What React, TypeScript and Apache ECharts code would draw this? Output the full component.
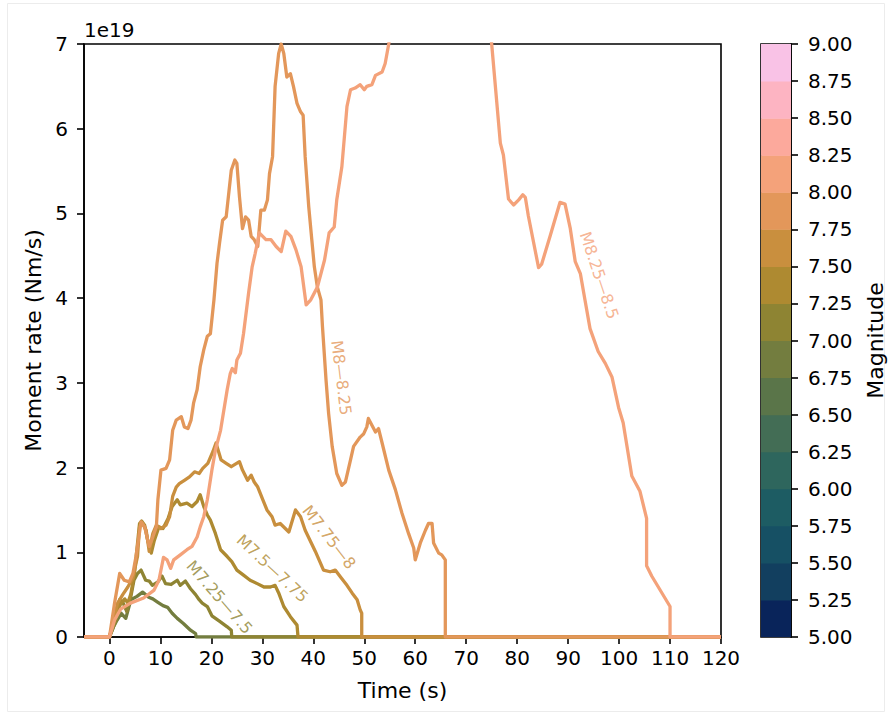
import React, { useEffect, useRef } from "react";
import * as echarts from "echarts";

const FONT = "DejaVu Sans";

// x tick values (s)
const xTickValues = [0, 10, 20, 30, 40, 50, 60, 70, 80, 90, 100, 110, 120];

// Magnitude bins for the colour bar
const cbBounds = [5, 5.25, 5.5, 5.75, 6, 6.25, 6.5, 6.75, 7, 7.25, 7.5, 7.75, 8, 8.25, 8.5, 8.75, 9];
const cbColors = [
  "#09245a", "#123f5f", "#165064", "#1d5c63", "#2e665d", "#436d55", "#5a7549", "#737d3f",
  "#8e8433", "#ae8a31", "#c98f3e", "#e3975a", "#f4a27a", "#fca99c", "#fdb4c2", "#f9c2e6",
];

// Moment-rate functions (time s, moment rate in 1e19 Nm/s)
const m7_725: [number, number][] = [
  [-5, 0], [0, 0], [0.8, 0.12], [1.5, 0.2], [2.3, 0.28], [3.2, 0.22], [4.2, 0.44], [5.4, 0.48],
  [6.5, 0.53], [7.7, 0.47], [8.5, 0.45], [9.5, 0.41], [10.5, 0.37], [11.4, 0.35], [12.3, 0.28],
  [13.3, 0.22], [14.5, 0.16], [15.9, 0.08], [16.9, 0.04], [17, 0], [120, 0],
];
const m725_75: [number, number][] = [
  [-5, 0], [0, 0], [1.3, 0.2], [2.0, 0.44], [2.7, 0.4], [3.4, 0.3], [4.2, 0.48], [4.8, 0.67],
  [5.5, 0.75], [6.2, 0.79], [7.1, 0.67], [7.8, 0.66], [8.4, 0.61], [9.5, 0.65], [10.3, 0.72],
  [11.0, 0.63], [12.1, 0.62], [13.3, 0.67], [13.9, 0.61], [14.9, 0.66], [15.9, 0.57], [16.9, 0.5],
  [17.6, 0.44], [18.2, 0.4], [19.2, 0.36], [20.1, 0.25], [21.5, 0.19], [23.1, 0.12], [23.9, 0.08],
  [24, 0], [120, 0],
];
const m75_775: [number, number][] = [
  [-5, 0], [0, 0], [1.3, 0.28], [2.3, 0.4], [3.0, 0.45], [3.6, 0.4], [4.2, 0.51], [4.9, 0.75],
  [5.9, 1.34], [6.3, 1.37], [6.9, 1.32], [7.5, 1.14], [8.2, 0.99], [8.8, 1.14], [9.7, 1.3],
  [10.5, 1.28], [11.5, 1.4], [12.3, 1.54], [13.3, 1.62], [13.9, 1.56], [15.2, 1.58], [16.2, 1.54],
  [17.2, 1.6], [17.8, 1.68], [18.5, 1.54], [19.2, 1.44], [19.8, 1.38], [20.8, 1.22], [21.8, 1.03],
  [23.1, 0.95], [24.0, 0.89], [25.0, 0.79], [26.3, 0.73], [27.6, 0.67], [29.0, 0.63], [30.3, 0.59],
  [31.6, 0.59], [32.5, 0.61], [33.2, 0.52], [34.2, 0.36], [35.5, 0.24], [36.8, 0.14], [37, 0], [120, 0],
];
const m775_8: [number, number][] = [
  [-5, 0], [0, 0], [1.6, 0.4], [2.6, 0.5], [3.6, 0.59], [4.6, 0.7], [5.5, 0.95], [5.9, 1.3],
  [6.5, 1.34], [7.2, 1.26], [7.8, 1.01], [8.5, 1.22], [9.2, 1.32], [10.1, 1.28], [11.1, 1.32],
  [11.8, 1.42], [12.4, 1.66], [13.1, 1.77], [13.7, 1.81], [14.7, 1.85], [15.7, 1.89], [16.7, 1.95],
  [17.6, 1.93], [18.3, 1.99], [19.3, 2.05], [20.3, 2.19], [20.9, 2.29], [21.9, 2.09], [22.9, 2.05],
  [23.9, 2.01], [25.5, 2.07], [26.1, 1.97], [27.1, 1.85], [27.8, 1.91], [28.4, 1.83], [29.1, 1.77],
  [30.1, 1.62], [30.9, 1.5], [31.9, 1.42], [32.5, 1.32], [33.5, 1.34], [35.2, 1.24], [36.5, 1.5],
  [37.5, 1.42], [38.4, 1.26], [40.4, 1.01], [42.0, 0.79], [43.3, 0.77], [44.3, 0.79], [45.3, 0.71],
  [46.6, 0.61], [47.6, 0.52], [48.6, 0.44], [49.2, 0.32], [49.5, 0.28], [49.5, 0], [120, 0],
];
const m8_825: [number, number][] = [
  [-5, 0], [0, 0], [1.0, 0.4], [2.0, 0.75], [2.9, 0.67], [3.9, 0.65], [4.6, 0.75], [5.2, 0.95],
  [6.2, 1.36], [6.9, 1.3], [7.8, 1.07], [8.5, 1.18], [9.2, 1.3], [9.5, 1.62], [10.1, 1.97],
  [11.1, 1.99], [11.8, 2.09], [12.4, 2.44], [13.1, 2.56], [14.1, 2.6], [14.7, 2.48], [15.4, 2.46],
  [16.0, 2.56], [16.5, 2.76], [17.2, 2.92], [17.8, 3.19], [18.5, 3.39], [19.2, 3.55], [19.8, 3.58],
  [20.5, 3.98], [21.1, 4.41], [21.6, 4.65], [22.2, 4.92], [22.9, 4.96], [23.9, 5.51], [24.6, 5.63],
  [25.0, 5.59], [25.5, 5.2], [26.1, 4.82], [26.7, 4.96], [27.3, 4.92], [27.8, 4.73], [28.4, 4.69],
  [29.1, 4.61], [29.7, 5.04], [30.4, 5.04], [31.0, 5.16], [31.4, 5.47], [32.0, 5.67], [32.5, 6.5],
  [33.2, 6.89], [33.7, 7.0], [34.2, 6.89], [34.8, 6.61], [35.5, 6.65], [36.1, 6.5], [36.8, 6.3],
  [37.5, 6.2], [38.0, 6.16], [38.4, 5.67], [39.1, 5.08], [39.7, 4.69], [40.2, 4.37], [40.8, 4.13],
  [41.5, 3.98], [41.8, 3.66], [42.5, 3.03], [43.0, 2.64], [43.7, 2.25], [44.6, 1.93], [45.6, 1.79],
  [46.3, 1.83], [47.3, 2.09], [47.9, 2.25], [49.2, 2.36], [49.9, 2.4], [50.5, 2.48], [50.8, 2.58],
  [51.5, 2.5], [52.2, 2.42], [52.8, 2.46], [53.5, 2.29], [54.8, 1.97], [56.1, 1.74], [57.4, 1.46],
  [58.7, 1.22], [59.7, 1.05], [60.0, 0.91], [61.0, 1.11], [62.0, 1.26], [62.6, 1.34], [63.3, 1.34],
  [63.6, 1.11], [64.6, 0.99], [65.2, 0.97], [65.9, 0.91], [65.9, 0], [120, 0],
];
const m825_85: [number, number][] = [
  [-5, 0], [0, 0], [1.0, 0.2], [2.2, 0.33], [4.1, 0.4], [6.7, 0.46], [8.7, 0.55], [9.7, 0.67],
  [10.3, 0.85], [10.6, 0.94], [11.3, 0.91], [12.0, 0.81], [12.6, 0.91], [13.9, 0.97], [15.2, 1.03],
  [16.2, 1.07], [17.2, 1.18], [17.8, 1.3], [18.5, 1.42], [19.2, 1.62], [20.1, 1.97], [20.8, 2.21],
  [21.8, 2.44], [23.1, 2.92], [23.7, 3.11], [24.1, 3.17], [24.7, 3.12], [25.0, 3.27], [25.7, 3.35],
  [26.3, 3.58], [27.3, 4.06], [28.0, 4.37], [28.6, 4.53], [29.4, 4.77], [30.7, 4.69], [31.7, 4.69],
  [32.7, 4.61], [33.7, 4.55], [34.6, 4.79], [35.6, 4.73], [36.6, 4.57], [37.6, 4.37], [38.6, 3.92],
  [39.5, 3.98], [40.8, 4.13], [42.2, 4.45], [43.1, 4.77], [44.1, 4.84], [44.6, 5.16], [45.6, 5.55],
  [46.6, 6.26], [47.3, 6.46], [48.2, 6.48], [49.2, 6.52], [50.0, 6.46], [50.5, 6.5], [51.5, 6.52],
  [52.2, 6.63], [53.5, 6.67], [54.1, 6.77], [54.8, 7.0], [56, 7.6], [58, 8.3], [62, 8.9], [66, 9.2],
  [70, 8.9], [73, 8.2], [75.0, 7.0], [76.7, 5.83], [77.3, 5.69], [78.3, 5.17], [79.3, 5.1],
  [80.3, 5.16], [81.1, 5.22], [81.6, 5.19], [82.2, 4.97], [84.2, 4.36], [84.8, 4.4], [86.5, 4.74],
  [88.4, 5.13], [89.4, 5.11], [90.4, 4.83], [91.4, 4.43], [92.4, 4.29], [93.3, 3.98], [94.3, 3.64],
  [95.9, 3.37], [97.3, 3.23], [98.6, 3.07], [99.9, 2.71], [100.8, 2.53], [102.5, 1.9], [104.1, 1.72],
  [105.4, 1.4], [105.4, 0.84], [106.4, 0.72], [110.0, 0.36], [110.0, 0], [120, 0],
];

const seriesNames = ["M7—7.25", "M7.25—7.5", "M7.5—7.75", "M7.75—8", "M8—8.25", "M8.25—8.5"];
const seriesData = [m7_725, m725_75, m75_775, m775_8, m8_825, m825_85];
const seriesColors = ["#737d3f", "#8e8433", "#ae8a31", "#c98f3e", "#e3975a", "#f4a27a"];

// inline labels: [series index, time, value, angle]
const inlineLabels: [number, number, number, number][] = [
  [1, 21.6, 0.47, -49],
  [2, 32.0, 0.81, -43],
  [3, 43.1, 1.18, -52],
  [4, 45.5, 3.06, -83],
  [5, 96.1, 4.27, -71.5],
];

export default function App() {
  const ref = useRef<HTMLDivElement>(null);
  useEffect(() => {
    if (!ref.current) return;
    const chart = echarts.init(ref.current, undefined, { renderer: "svg" });
    const tickTextStyle = { fontSize: 20, color: "#000", fontFamily: FONT };
    const titleTextStyle = { fontSize: 22, color: "#000", fontFamily: FONT };
    const lineSeries = seriesData.map((d, i) => ({
      type: "line",
      name: seriesNames[i],
      data: d,
      xAxisIndex: 0,
      yAxisIndex: 0,
      showSymbol: false,
      symbol: "none",
      clip: true,
      lineStyle: { width: 3.3, color: seriesColors[i], join: "round" },
      itemStyle: { color: seriesColors[i] },
      z: 2 + i,
    }));
    const labelSeries = inlineLabels.map(([si, t, v, ang]) => ({
      type: "scatter",
      xAxisIndex: 0,
      yAxisIndex: 0,
      silent: true,
      symbolSize: 1,
      itemStyle: { color: "rgba(0,0,0,0)" },
      data: [[t, v]],
      z: 20,
      label: {
        show: true,
        position: "inside",
        formatter: seriesNames[si],
        rotate: ang,
        color: seriesColors[si],
        fontSize: 16,
        fontFamily: FONT,
        align: "center",
        verticalAlign: "middle",
      },
    }));
    const option: any = {
      animation: false,
      backgroundColor: "#ffffff",
      textStyle: { fontFamily: FONT },
      grid: [
        { left: 84, top: 44, width: 637, height: 593, show: true, borderColor: "#000", borderWidth: 1.6, backgroundColor: "transparent" },
        { left: 761, top: 44, width: 30, height: 593, show: true, borderColor: "#000", borderWidth: 1.6, backgroundColor: "transparent" },
      ],
      xAxis: [
        {
          type: "value",
          gridIndex: 0,
          min: -5,
          max: 120,
          name: "Time (s)",
          nameLocation: "middle",
          nameGap: 42,
          nameTextStyle: titleTextStyle,
          axisLine: { show: true, onZero: false, lineStyle: { color: "#000", width: 1.6 } },
          axisTick: { show: true, length: 7, lineStyle: { color: "#000", width: 1.6 }, customValues: xTickValues },
          axisLabel: { ...tickTextStyle, margin: 11, customValues: xTickValues },
          splitLine: { show: false },
        },
        { type: "value", gridIndex: 1, min: 0, max: 1, show: false },
      ],
      yAxis: [
        {
          type: "value",
          gridIndex: 0,
          min: 0,
          max: 7,
          interval: 1,
          name: "Moment rate (Nm/s)",
          nameLocation: "middle",
          nameRotate: 90,
          nameGap: 39,
          nameTextStyle: titleTextStyle,
          axisLine: { show: true, onZero: false, lineStyle: { color: "#000", width: 1.6 } },
          axisTick: { show: true, length: 7, lineStyle: { color: "#000", width: 1.6 } },
          axisLabel: { ...tickTextStyle, margin: 16 },
          splitLine: { show: false },
        },
        {
          type: "value",
          gridIndex: 1,
          position: "right",
          min: 5,
          max: 9,
          interval: 0.25,
          name: "Magnitude",
          nameLocation: "middle",
          nameRotate: 90,
          nameGap: 73,
          nameTextStyle: titleTextStyle,
          axisLine: { show: true, onZero: false, lineStyle: { color: "#000", width: 1.6 } },
          axisTick: { show: true, length: 7, lineStyle: { color: "#000", width: 1.6 } },
          axisLabel: { ...tickTextStyle, margin: 17, formatter: (v: number) => v.toFixed(2) },
          splitLine: { show: false },
        },
      ],
      graphic: [
        {
          type: "rect",
          silent: true,
          shape: { x: 7.5, y: 3.5, width: 877, height: 708 },
          style: { fill: "none", stroke: "#ececec", lineWidth: 1 },
        },
        {
          type: "text",
          left: 84,
          top: 20,
          style: { text: "1e19", font: `20px '${FONT}'`, fill: "#000" },
        },
      ],
      series: [
        {
          type: "custom",
          xAxisIndex: 1,
          yAxisIndex: 1,
          silent: true,
          clip: true,
          data: cbColors.map((c, i) => [0, cbBounds[i], cbBounds[i + 1]]),
          encode: { x: 0, y: [1, 2] },
          renderItem: (params: any, api: any) => {
            const lo = api.value(1);
            const hi = api.value(2);
            const p0 = api.coord([0, hi]);
            const p1 = api.coord([1, lo]);
            return {
              type: "rect",
              shape: { x: p0[0], y: p0[1], width: p1[0] - p0[0], height: p1[1] - p0[1] + 0.5 },
              style: { fill: cbColors[params.dataIndex] },
            };
          },
        },
        ...lineSeries,
        ...labelSeries,
      ],
    };
    chart.setOption(option);
    return () => chart.dispose();
  }, []);
  return (
    <div
      ref={ref}
      style={{ position: "fixed", left: 0, top: 0, width: 891, height: 716, background: "#fff" }}
    />
  );
}
